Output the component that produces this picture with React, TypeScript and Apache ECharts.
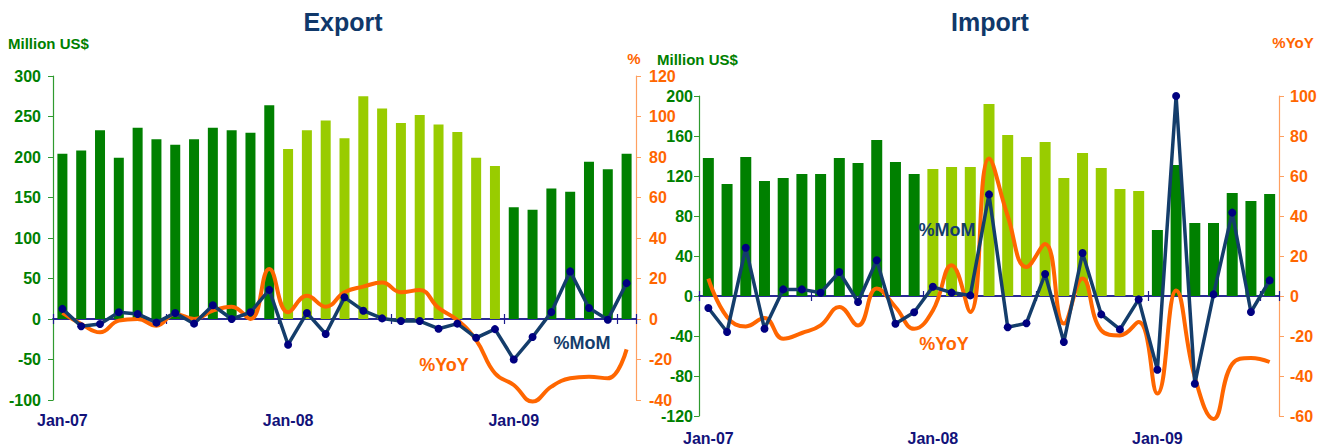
import React, { useEffect, useRef } from "react";
import * as echarts from "echarts";

const months = [
  "Jan-07", "Feb-07", "Mar-07", "Apr-07", "May-07", "Jun-07", "Jul-07", "Aug-07", "Sep-07", "Oct-07", "Nov-07", "Dec-07",
  "Jan-08", "Feb-08", "Mar-08", "Apr-08", "May-08", "Jun-08", "Jul-08", "Aug-08", "Sep-08", "Oct-08", "Nov-08", "Dec-08",
  "Jan-09", "Feb-09", "Mar-09", "Apr-09", "May-09", "Jun-09", "Jul-09",
];

const exportValue = [204, 208, 233, 199, 236, 222, 215, 222, 236, 233, 230, 264, 210, 233, 245, 223, 275, 260, 242, 252, 240, 231, 199, 189, 138, 135, 161, 157, 194, 185, 204];
const exportMoM = [5.0, -3.6, -2.5, 3.3, 2.5, -1.8, 3.0, -2.3, 6.8, 0, 3.3, 14.4, -12.7, 3.0, -7.4, 10.7, 4.1, 0.3, -1.0, -1.0, -4.8, -2.3, -9.3, -5.0, -20.0, -8.9, 3.4, 23.5, 5.4, -0.4, 17.7];
const exportYoY = [3, -2.5, -6.6, -0.8, 0, -3.3, 2.5, 0, 4.1, 6.1, 0, 24.7, 3.3, 11.5, 6.1, 13.2, 16, 18, 13.2, 14.3, 5.5, -0.5, -10.4, -26.8, -32.6, -40.8, -33.4, -29.3, -28.5, -29.3, -15];

const importValue = [138, 112, 139, 115, 118, 122, 122, 138, 133, 156, 134, 122, 127, 129, 129, 192, 161, 139, 154, 118, 143, 128, 107, 105, 66, 131, 73, 73, 103, 95, 102];
const importMoM = [-6, -18, 24.1, -16.4, 3.3, 3.3, 1.6, 12, -3, 17.9, -13.9, -8.1, 4.6, 1.7, 0.3, 50.8, -15.6, -13.6, 11, -23, 21.5, -9.2, -16.7, -1.7, -36.9, 100, -43.9, 0.8, 41.7, -8, 7.8];
const importYoY = [8.7, -10.5, -15.2, -11, -21.4, -18.5, -14.7, -5.5, -14.7, 3.7, -5.5, -16.4, -7.2, 15.4, -8, 68.8, 40, 14.5, 26, -13.8, 8.7, -17.2, -19.7, -13, -48.8, 2.8, -40.5, -61.5, -34, -31, -33];

const leftAxisExport = { min: -100, max: 300, interval: 50 };
const rightAxisExport = { min: -40, max: 120, interval: 20 };
const leftAxisImport = { min: -120, max: 200, interval: 40 };
const rightAxisImport = { min: -60, max: 100, interval: 20 };

const FONT = '"Liberation Sans", Arial, sans-serif';
const GREEN = "#008000";
const LIGHT_GREEN = "#99cc00";
const ORANGE = "#ff6600";
const NAVY = "#000080";
const MOM_LINE = "#143d6b";
const TITLE = "#10386a";

function barColor(m: string) {
  return m.endsWith("-08") ? LIGHT_GREEN : GREEN;
}

function buildPanel(gi: number, values: number[], mom: number[], yoy: number[], left: any, right: any, opts: any) {
  const xBase = gi * 3;
  const yBase = gi * 2;
  const xAxes = [
    {
      type: "category", gridIndex: gi, data: months, position: "bottom",
      axisLine: { show: true, onZero: true, lineStyle: { color: "#1c1c8c", width: 1.5 } },
      axisTick: { show: true, interval: 5, length: 5, lineStyle: { color: "#1c1c8c", width: 1.2 } },
      axisLabel: { show: false }, splitLine: { show: false },
    },
    {
      type: "category", gridIndex: gi, data: months, position: "top",
      axisLine: { show: true, onZero: true, lineStyle: { color: "#1c1c8c", width: 1.5 } },
      axisTick: { show: true, interval: 5, length: 5, lineStyle: { color: "#1c1c8c", width: 1.2 } },
      axisLabel: { show: false }, splitLine: { show: false },
    },
    {
      type: "category", gridIndex: gi, data: months, position: "bottom",
      axisLine: { show: false, onZero: false },
      axisTick: { show: false },
      axisLabel: { show: true, interval: 11, margin: opts.labelMargin, color: "#12127a", fontWeight: "bold", fontSize: 16, fontFamily: FONT },
      splitLine: { show: false },
    },
  ];
  const yAxes = [
    {
      type: "value", gridIndex: gi, position: "left", min: left.min, max: left.max, interval: left.interval,
      axisLine: { show: true, lineStyle: { color: "#2f9a2f", width: 1.2 } },
      axisTick: { show: true, length: 5, lineStyle: { color: "#2f9a2f" } },
      axisLabel: { color: GREEN, fontWeight: "bold", fontSize: 16, fontFamily: FONT, margin: opts.leftMargin },
      splitLine: { show: false },
    },
    {
      type: "value", gridIndex: gi, position: "right", min: right.min, max: right.max, interval: right.interval,
      axisLine: { show: true, lineStyle: { color: "#ffa060", width: 1.2 } },
      axisTick: { show: true, length: 5, lineStyle: { color: "#ffa060" } },
      axisLabel: { color: ORANGE, fontWeight: "bold", fontSize: 16, fontFamily: FONT, margin: opts.rightMargin },
      splitLine: { show: false },
    },
  ];
  const series = [
    {
      type: "bar", xAxisIndex: xBase, yAxisIndex: yBase, barWidth: opts.barWidth,
      data: values.map((v, i) => ({ value: v, itemStyle: { color: barColor(months[i]) } })),
      z: 2,
    },
    {
      type: "line", xAxisIndex: xBase, yAxisIndex: yBase + 1, data: yoy, smooth: 0.45, clip: false,
      showSymbol: false, symbol: "none", lineStyle: { color: ORANGE, width: 4 }, z: 3,
    },
    {
      type: "line", xAxisIndex: xBase, yAxisIndex: yBase + 1, data: mom, smooth: false, clip: false,
      symbol: "circle", symbolSize: 8, itemStyle: { color: NAVY }, lineStyle: { color: MOM_LINE, width: 3.5 }, z: 4,
    },
  ];
  return { xAxes, yAxes, series };
}

function txt(text: string, x: number, y: number, size: number, fill: string, align = "center", shadow = false) {
  return {
    type: "text", x, y, z: 100,
    style: {
      text, fill, font: `bold ${size}px ${FONT}`,
      align, textAlign: align, verticalAlign: "middle", textVerticalAlign: "middle",
      ...(shadow ? { shadowColor: "rgba(0,0,0,0.25)", shadowBlur: 2, shadowOffsetX: 2, shadowOffsetY: 2 } : {}),
    },
  };
}

export default function App() {
  const ref = useRef<HTMLDivElement>(null);
  useEffect(() => {
    document.body.style.margin = "0";
    if (!ref.current) return;
    const chart = echarts.init(ref.current, undefined, { renderer: "svg" });
    const p1 = buildPanel(0, exportValue, exportMoM, exportYoY, leftAxisExport, rightAxisExport, { labelMargin: 12, leftMargin: 12, rightMargin: 13, barWidth: 10 });
    const p2 = buildPanel(1, importValue, importMoM, importYoY, leftAxisImport, rightAxisImport, { labelMargin: 14, leftMargin: 6, rightMargin: 11, barWidth: 11 });
    chart.setOption({
      animation: false,
      backgroundColor: "#ffffff",
      grid: [
        { left: 53, top: 76, width: 583, height: 324 },
        { left: 699, top: 96, width: 580, height: 320 },
      ],
      xAxis: [...p1.xAxes, ...p2.xAxes],
      yAxis: [...p1.yAxes, ...p2.yAxes],
      series: [...p1.series, ...p2.series],
      graphic: [
        txt("Export", 343, 22, 25, TITLE, "center", true),
        txt("Import", 990, 22, 25, TITLE, "center", true),
        txt("Million US$", 8, 43, 15, GREEN, "left"),
        txt("Million US$", 657, 59, 15, GREEN, "left"),
        txt("%", 634, 58, 15, ORANGE),
        txt("%YoY", 1293, 42, 15, ORANGE),
        txt("%MoM", 582, 343, 18, MOM_LINE),
        txt("%YoY", 444, 365, 18, ORANGE),
        txt("%MoM", 947, 230, 18, MOM_LINE),
        txt("%YoY", 944, 344, 18, ORANGE),
      ],
    });
    return () => chart.dispose();
  }, []);
  return <div ref={ref} style={{ position: "absolute", left: 0, top: 0, width: 1327, height: 446 }} />;
}
